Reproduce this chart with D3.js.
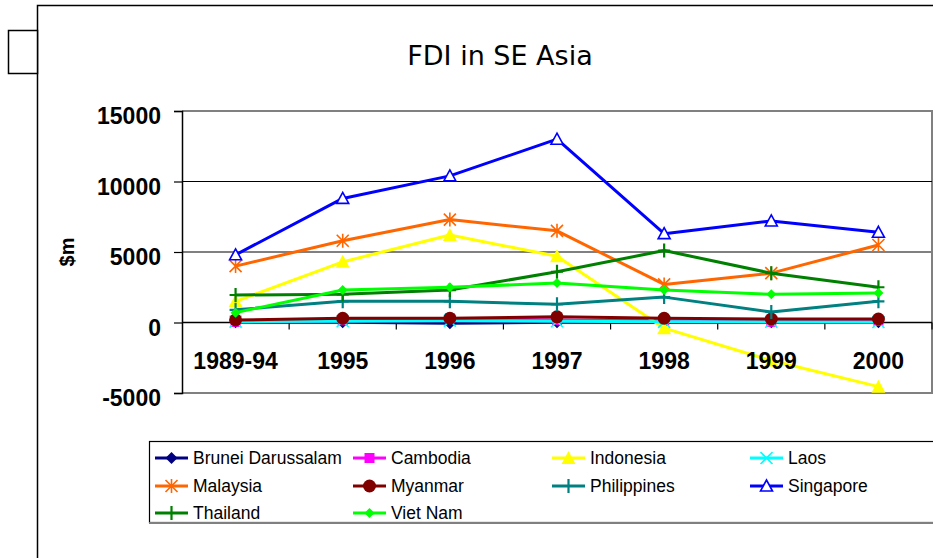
<!DOCTYPE html>
<html>
	<head>
		<meta charset="utf-8">
		<style type="text/css">
			body { margin: 0; background: white; }
			svg  { display: block; }
		</style>
		<title>FDI in SE Asia</title>
	</head>
	<body>
		<script src="https://cdn.jsdelivr.net/npm/d3@7/dist/d3.min.js"></script>
		<script>

// data ($m) ////////////////////////////////////////////////////////////////

var periods = ['1989-94', '1995', '1996', '1997', '1998', '1999', '2000'];

var countries = ['Brunei Darussalam', 'Cambodia', 'Indonesia', 'Laos', 'Malaysia',
	'Myanmar', 'Philippines', 'Singapore', 'Thailand', 'Viet Nam'];

var brunei      = [20, 10, -60, 10, 0, 10, 10];
var cambodia    = [40, 150, 290, 170, 120, 50, 120];
var indonesia   = [1500, 4300, 6200, 4700, -400, -2700, -4550];
var laos        = [60, 90, 130, 90, 45, 50, 35];
var malaysia    = [4000, 5800, 7300, 6500, 2700, 3500, 5500];
var myanmar     = [180, 300, 300, 400, 300, 250, 250];
var philippines = [900, 1500, 1500, 1300, 1800, 750, 1500];
var singapore   = [4800, 8800, 10400, 13000, 6300, 7200, 6400];
var thailand    = [1950, 2000, 2300, 3600, 5100, 3500, 2500];
var vietnam     = [700, 2300, 2500, 2800, 2300, 2000, 2100];

var yTicks = [-5000, 0, 5000, 10000, 15000];

var series = [brunei, cambodia, indonesia, laos, malaysia, myanmar,
	philippines, singapore, thailand, vietnam];

// styles ///////////////////////////////////////////////////////////////////

var colors  = ['#000080', '#ff00ff', '#ffff00', '#00ffff', '#ff6600',
	'#800000', '#008080', '#0000ff', '#008000', '#00ff00'];
var markers = ['diamond', 'square', 'triangle', 'x', 'star',
	'circle', 'plus', 'opentriangle', 'plus', 'smalldiamond'];

var W = 933, H = 558;

var svg = d3.select('body').append('svg')
	.attr('width', W)
	.attr('height', H);

// frame around the chart object
svg.append('path')
	.attr('fill', 'none')
	.attr('stroke', 'black')
	.attr('stroke-width', 1.5)
	.attr('d', 'M37.5,558 V5.5 H933');
svg.append('rect')
	.attr('x', 8.5).attr('y', 30.5)
	.attr('width', 29).attr('height', 43)
	.attr('fill', 'white')
	.attr('stroke', 'black')
	.attr('stroke-width', 1.5);

// title
svg.append('text')
	.attr('x', 500).attr('y', 65)
	.attr('text-anchor', 'middle')
	.attr('font-family', 'DejaVu Sans, Verdana, sans-serif')
	.attr('font-size', 27)
	.text('FDI in SE Asia');

// scales ///////////////////////////////////////////////////////////////////

var x = d3.scaleBand()
	.domain(periods)
	.range([182, 932]);

var y = d3.scaleLinear()
	.domain([-5000, 15000])
	.range([393, 111]);

var [x0, x1] = x.range();
var [y0, y1] = y.range();

// plot border (grey) & grid
svg.append('path')
	.attr('fill', 'none')
	.attr('stroke', '#808080')
	.attr('stroke-width', 2)
	.attr('d', `M${x0},${y1} H${x1} V${y0} H${x0}`);

svg.append('g')
	.selectAll('line')
	.data([5000, 10000])
	.join('line')
		.attr('x1', x0).attr('x2', x1)
		.attr('y1', d => y(d)).attr('y2', d => y(d))
		.attr('stroke', d => d == 10000 ? 'black' : '#808080')
		.attr('stroke-width', d => d == 10000 ? 1.2 : 2);

// y axis
var yAxis = svg.append('g')
	.attr('transform', `translate(${x0},0)`)
	.call(d3.axisLeft(y)
		.tickValues(yTicks)
		.tickSize(8)
		.tickPadding(13)
		.tickFormat(d => String(d)))
	.call(g => g.selectAll('line').attr('stroke-width', 1.2))
	.call(g => g.select('.domain').attr('stroke-width', 1.5));
yAxis.selectAll('text')
	.attr('font-family', 'Liberation Sans, Arial, sans-serif')
	.attr('font-size', 23)
	.attr('font-weight', 'bold')
	.attr('dy', '0.55em')
	.attr('fill', 'black');

svg.append('text')
	.attr('transform', `translate(74,${(y0 + y1) / 2}) rotate(-90)`)
	.attr('text-anchor', 'middle')
	.attr('font-family', 'Liberation Sans, Arial, sans-serif')
	.attr('font-size', 20)
	.attr('font-weight', 'bold')
	.text('$m');

// x axis on zero line, ticks between categories
svg.append('line')
	.attr('x1', x0).attr('x2', x1)
	.attr('y1', y(0)).attr('y2', y(0))
	.attr('stroke', 'black')
	.attr('stroke-width', 1.5);
svg.append('g')
	.selectAll('line')
	.data(periods.slice(1).concat(['end']))
	.join('line')
		.attr('x1', (d, i) => x0 + (i + 1) * x.bandwidth())
		.attr('x2', (d, i) => x0 + (i + 1) * x.bandwidth())
		.attr('y1', y(0)).attr('y2', y(0) + 7)
		.attr('stroke', 'black')
		.attr('stroke-width', 1.2);

// markers //////////////////////////////////////////////////////////////////

function marker(g, type, color) {
	var s = 6;
	switch (type) {
	case 'diamond':
		g.append('path').attr('d', `M0,${-s} L${s},0 L0,${s} L${-s},0 Z`).attr('fill', color);
		break;
	case 'smalldiamond':
		g.append('path').attr('d', 'M0,-5 L5,0 L0,5 L-5,0 Z').attr('fill', color);
		break;
	case 'square':
		g.append('rect').attr('x', -5).attr('y', -5).attr('width', 10).attr('height', 10).attr('fill', color);
		break;
	case 'triangle':
		g.append('path').attr('d', `M0,${-s - 1} L${s + 1},${s} L${-s - 1},${s} Z`).attr('fill', color);
		break;
	case 'opentriangle':
		g.append('path').attr('d', `M0,${-s} L${s},${s - 1} L${-s},${s - 1} Z`)
			.attr('fill', 'white').attr('stroke', color).attr('stroke-width', 1.6);
		break;
	case 'circle':
		g.append('circle').attr('r', 6.5).attr('fill', color);
		break;
	case 'x':
		g.append('path').attr('d', `M${-s},${-s} L${s},${s} M${-s},${s} L${s},${-s}`)
			.attr('stroke', color).attr('stroke-width', 1.6);
		break;
	case 'star':
		g.append('path').attr('d', `M${-s},${-s} L${s},${s} M${-s},${s} L${s},${-s} M0,${-s - 1} V${s + 1}`)
			.attr('stroke', color).attr('stroke-width', 1.6);
		break;
	case 'plus':
		g.append('path').attr('d', `M${-s},0 H${s} M0,${-s - 1} V${s + 1}`)
			.attr('stroke', color).attr('stroke-width', 2.2);
		break;
	}
}

// series ///////////////////////////////////////////////////////////////////

var cx = d => x(d) + x.bandwidth() / 2;

var line = d3.line()
	.x((d, i) => cx(periods[i]))
	.y(d => y(d));

series.forEach((values, k) => {
	var g = svg.append('g');
	g.append('path')
		.attr('d', line(values))
		.attr('fill', 'none')
		.attr('stroke', colors[k])
		.attr('stroke-width', 3)
		.attr('stroke-linejoin', 'round');
	values.forEach((v, i) => {
		marker(g.append('g').attr('transform', `translate(${cx(periods[i])},${y(v)})`), markers[k], colors[k]);
	});
});

// category labels drawn over the lines
svg.append('g')
	.selectAll('text')
	.data(periods)
	.join('text')
		.attr('x', d => cx(d))
		.attr('y', 369)
		.attr('text-anchor', 'middle')
		.attr('font-family', 'Liberation Sans, Arial, sans-serif')
		.attr('font-size', 23)
		.attr('font-weight', 'bold')
		.text(d => d);

// legend ///////////////////////////////////////////////////////////////////

var legend = svg.append('g');
legend.append('rect')
	.attr('x', 149.5).attr('y', 441.5)
	.attr('width', 800).attr('height', 81)
	.attr('fill', 'white')
	.attr('stroke', 'black')
	.attr('stroke-width', 1.2);
legend.append('line')
	.attr('x1', 149).attr('x2', 933)
	.attr('y1', 523).attr('y2', 523)
	.attr('stroke', '#808080')
	.attr('stroke-width', 2);

var colX = [155, 353, 552, 750];
var rowY = [458, 486, 513];

countries.forEach((name, k) => {
	var item = legend.append('g')
		.attr('transform', `translate(${colX[k % 4]},${rowY[Math.floor(k / 4)]})`);
	item.append('line')
		.attr('x1', 0).attr('x2', 33)
		.attr('stroke', colors[k])
		.attr('stroke-width', 3);
	marker(item.append('g').attr('transform', 'translate(16.5,0)'), markers[k], colors[k]);
	item.append('text')
		.attr('x', 38).attr('y', 6)
		.attr('font-family', 'Liberation Sans, Arial, sans-serif')
		.attr('font-size', 17.5)
		.text(name);
});

		</script>
	</body>
</html>
